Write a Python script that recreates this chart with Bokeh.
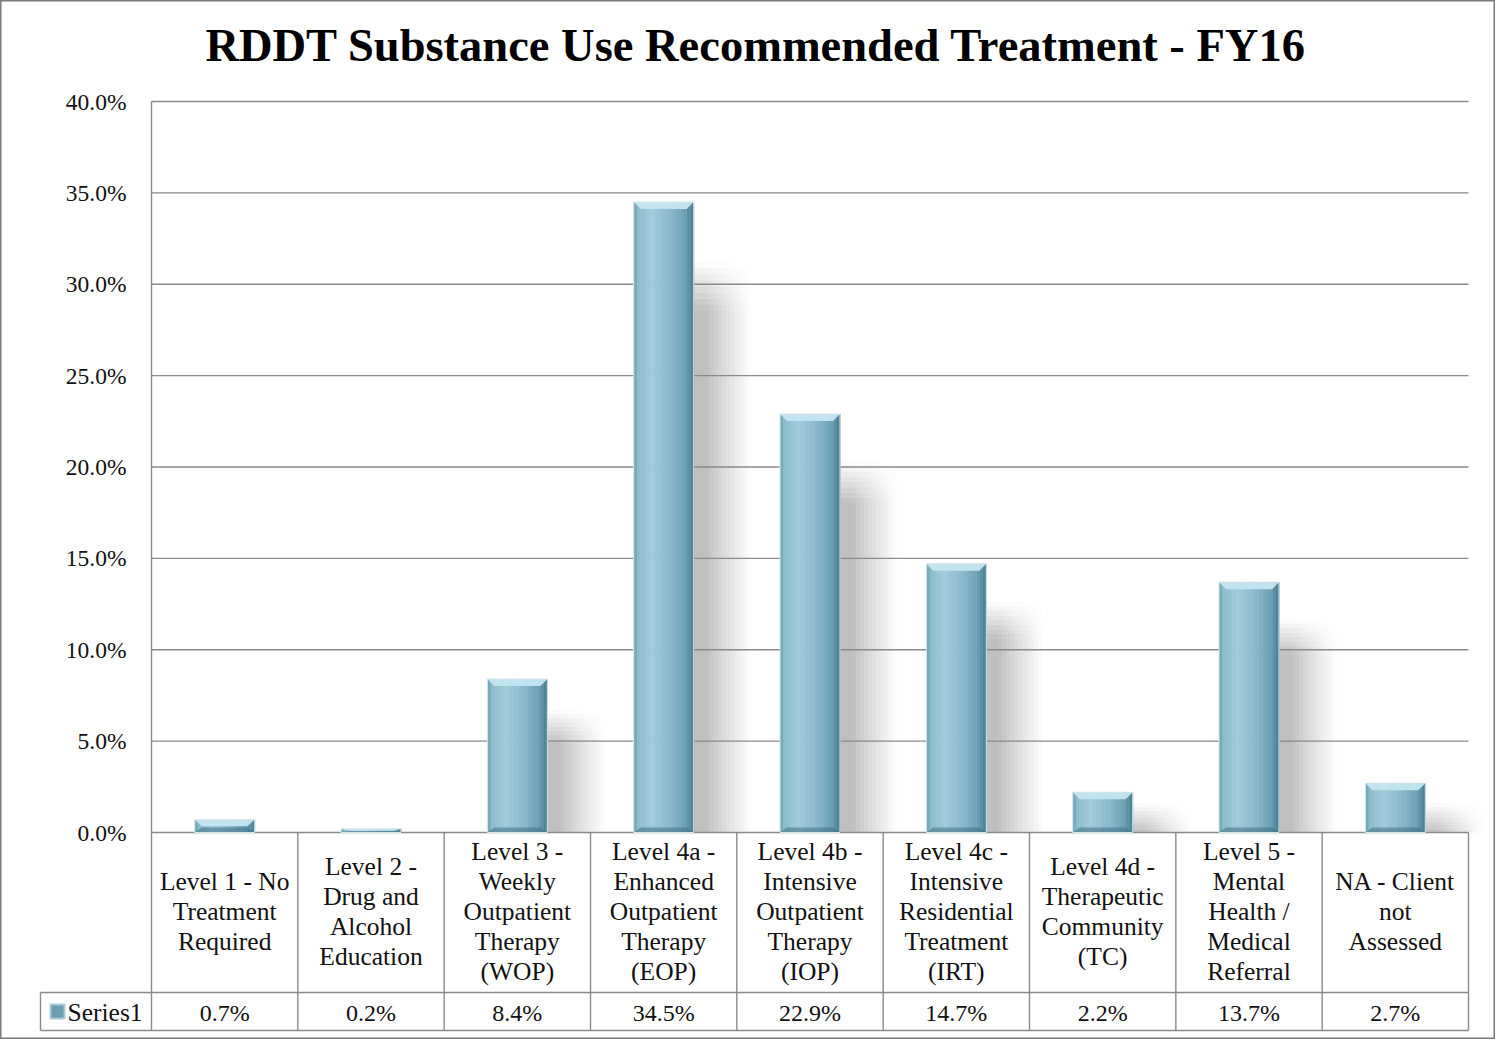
import numpy as np
from bokeh.plotting import figure
from bokeh.models import Range1d
from bokeh.core.properties import value
from bokeh.embed import file_html
from bokeh.resources import INLINE

# ---------------- data ----------------
chart_title = "RDDT Substance Use Recommended Treatment - FY16"
categories = [
    "Level 1 - No\nTreatment\nRequired",
    "Level 2 -\nDrug and\nAlcohol\nEducation",
    "Level 3 -\nWeekly\nOutpatient\nTherapy\n(WOP)",
    "Level 4a -\nEnhanced\nOutpatient\nTherapy\n(EOP)",
    "Level 4b -\nIntensive\nOutpatient\nTherapy\n(IOP)",
    "Level 4c -\nIntensive\nResidential\nTreatment\n(IRT)",
    "Level 4d -\nTherapeutic\nCommunity\n(TC)",
    "Level 5 -\nMental\nHealth /\nMedical\nReferral",
    "NA - Client\nnot\nAssessed",
]
values = [0.7, 0.2, 8.4, 34.5, 22.9, 14.7, 2.2, 13.7, 2.7]
value_labels = ["0.7%", "0.2%", "8.4%", "34.5%", "22.9%", "14.7%", "2.2%", "13.7%", "2.7%"]
y_ticks = [0, 5, 10, 15, 20, 25, 30, 35, 40]
y_tick_labels = ["0.0%", "5.0%", "10.0%", "15.0%", "20.0%", "25.0%", "30.0%", "35.0%", "40.0%"]
series_name = "Series1"

# ---------------- layout (pixels inside the figure) ----------------
W, H = 1495, 1039
PL, PR, PT, PB = 151, 1468, 101, 832        # plot area
ROW1_B, ROW2_B = 992, 1030                  # table row bottoms
SER_L = 40                                  # legend cell left
n = len(categories)
ymax = 40.0
cw = (PR - PL) / n
ppu = (PB - PT) / ymax
x0, x1 = -PL / cw, (W - PL) / cw
y1, y0 = ymax + PT / ppu, -(H - PB) / ppu


def X(px):
    return x0 + px / cw


def Y(py):
    return y1 - py / ppu


DX, DY = 1.0 / cw, 1.0 / ppu

FONT = value("Liberation Serif")
GRID = "#8a8a8a"
TXT = "#111111"

p = figure(width=W, height=H, output_backend="svg", toolbar_location=None,
           x_range=Range1d(x0, x1), y_range=Range1d(y0, y1),
           x_axis_location=None, y_axis_location=None, min_border=0,
           background_fill_color="white", border_fill_color="white")
p.outline_line_color = "#7a7a7a"
p.outline_line_width = 2
p.grid.visible = False

v = np.array(values, dtype=float)
cx = np.arange(n) + 0.5
bw = 0.41
bl, br = cx - bw / 2, cx + bw / 2


# ---------------- soft shadow (opaque gray cells, drawn under the grid) ----------------
def prof(d):
    if d < 12:
        return 0.25
    return 0.25 * max(0.0, 1 - (d - 12) / 48) ** 1.2


def gray(a):
    g = int(round(255 * (1 - a)))
    return "#%02x%02x%02x" % (g, g, g)


STEP, NS, MS = 4, 15, 8
sl, sr, sb, stt, sc = [], [], [], [], []
for i in range(n):
    top = v[i] - (1.2 + 0.06 * v[i])
    fade = 1.5 + 0.035 * v[i]
    if top <= 0:
        continue
    body = max(top - fade, 0)
    for j in range(NS):
        a = prof(j * STEP + STEP / 2)
        if a <= 0.003:
            continue
        left = br[i] + j * STEP * DX
        right = left + (STEP + 0.6) * DX
        if body > 0:
            sl.append(left); sr.append(right); sb.append(0); stt.append(body + 0.2 * DY); sc.append(gray(a))
        for m in range(MS):
            b = body + m * fade / MS
            t = b + fade / MS
            if t <= 0:
                continue
            k = 1 - (m + 0.5) / MS
            sl.append(left); sr.append(right); sb.append(max(b, 0)); stt.append(t + 0.3 * DY)
            sc.append(gray(a * k))
p.quad(left=sl, right=sr, bottom=sb, top=stt, fill_color=sc, line_color=None)

# ---------------- gridlines & table lines ----------------
p.segment(x0=0, x1=n, y0=y_ticks[1:], y1=y_ticks[1:], line_color=GRID, line_width=1.4)
p.segment(x0=0, x1=n, y0=0, y1=0, line_color=GRID, line_width=1.4)
p.segment(x0=X(SER_L), x1=n, y0=[Y(ROW1_B), Y(ROW2_B)], y1=[Y(ROW1_B), Y(ROW2_B)],
          line_color=GRID, line_width=1.4)
vx = list(range(1, n + 1))
p.segment(x0=vx, x1=vx, y0=Y(ROW2_B), y1=0, line_color=GRID, line_width=1.4)
p.segment(x0=0, x1=0, y0=Y(ROW2_B), y1=ymax, line_color=GRID, line_width=1.4)
p.segment(x0=X(SER_L), x1=X(SER_L), y0=Y(ROW2_B), y1=Y(ROW1_B), line_color=GRID, line_width=1.4)

# ---------------- bars ----------------
stops = [0.0, 0.06, 0.3, 0.62, 0.86, 0.95, 1.0]
cols = ["#6a9cb0", "#8bbacb", "#a3cbda", "#8ab8c9", "#6c9fb2", "#55899d", "#4a7d91"]


def hx(c):
    return np.array([int(c[k:k + 2], 16) for k in (1, 3, 5)], dtype=float)


rgb = np.array([hx(c) for c in cols])
S = 18
ql, qr, qt, qc = [], [], [], []
for i in range(n):
    for s in range(S):
        f = (s + 0.5) / S
        c = [np.interp(f, stops, rgb[:, k]) for k in range(3)]
        ql.append(bl[i] + s * bw / S)
        qr.append(bl[i] + (s + 1) * bw / S + DX * 0.5)
        qt.append(v[i])
        qc.append("#%02x%02x%02x" % tuple(int(round(x)) for x in c))
p.quad(left=ql, right=qr, bottom=0, top=qt, fill_color=qc, line_color=None)

# bevels
bev_x, bev_y = 7 * DX, 7 * DY
top_xs, top_ys, bot_xs, bot_ys = [], [], [], []
for i in range(n):
    h = min(bev_y, v[i] * 0.5)
    top_xs.append([bl[i], br[i], br[i] - bev_x, bl[i] + bev_x])
    top_ys.append([v[i], v[i], v[i] - h, v[i] - h])
    hb = min(5 * DY, v[i] * 0.4)
    bot_xs.append([bl[i], br[i], br[i] - bev_x, bl[i] + bev_x])
    bot_ys.append([0, 0, hb, hb])
p.patches(xs=top_xs, ys=top_ys, fill_color="#c4e6f1", fill_alpha=0.95, line_color=None)
p.patches(xs=bot_xs, ys=bot_ys, fill_color="#3f7083", fill_alpha=0.55, line_color=None)
p.quad(left=bl, right=br, bottom=0, top=v, fill_color=None,
       line_color="#d6e7ec", line_width=1)

# ---------------- texts ----------------
p.text(x=X(PL - 25), y=y_ticks, text=y_tick_labels, text_font=FONT,
       text_font_size="23.5px", text_align="right", text_baseline="middle", text_color=TXT)
p.text(x=cx, y=Y((PB + ROW1_B) / 2 - 1), text=categories, text_font=FONT,
       text_font_size="25.5px", text_align="center", text_baseline="middle",
       text_line_height=1.04, text_color=TXT)
p.text(x=cx, y=Y((ROW1_B + ROW2_B) / 2 + 1), text=value_labels, text_font=FONT,
       text_font_size="24px", text_align="center", text_baseline="middle", text_color=TXT)

# legend key + series name
p.quad(left=X(SER_L + 10), right=X(SER_L + 24), bottom=Y(1018), top=Y(1004),
       fill_color="#6d9db0", line_color="#a5cbd9", line_width=2)
p.text(x=X(SER_L + 27), y=Y((ROW1_B + ROW2_B) / 2 + 1), text=[series_name], text_font=FONT,
       text_font_size="25.5px", text_align="left", text_baseline="middle", text_color=TXT)

p.text(x=X(W / 2 + 8), y=Y(45), text=[chart_title], text_font=FONT,
       text_font_size="46.5px", text_font_style="bold", text_align="center",
       text_baseline="middle", text_color="black")

open("out.html", "w").write(file_html(p, INLINE, title="RDDT Substance Use Recommended Treatment - FY16"))
